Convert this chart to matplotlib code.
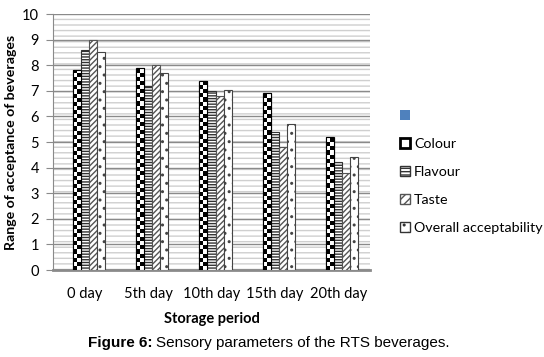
import numpy as np
import matplotlib.pyplot as plt
from matplotlib.patches import Patch, Rectangle

days = ['0 day', '5th day', '10th day', '15th day', '20th day']
colour = [7.8, 7.9, 7.4, 6.9, 5.2]
flavour = [8.6, 7.2, 7.0, 5.4, 4.2]
taste = [9.0, 8.0, 6.8, 4.8, 3.8]
overall = [8.5, 7.7, 7.05, 5.7, 4.4]

plt.rcParams['font.family'] = ['Lato', 'DejaVu Sans']
plt.rcParams['hatch.linewidth'] = 1.0

fig = plt.figure(figsize=(5.44, 3.57), dpi=100)
ax = fig.add_axes([53 / 544, 1 - 270 / 357, 317 / 544, 256 / 357])

# striped plot-area background
bg = Rectangle((0, 0), 1, 1, transform=ax.transAxes, facecolor='white',
               edgecolor='#cfcfcf', hatch='---', linewidth=0, zorder=0)
ax.add_patch(bg)
ax.patch.set_visible(False)

x = np.arange(len(days))
w = 0.127
# first slot of each group belongs to the empty (blue) series
off = [-1 * w, 0, 1 * w, 2 * w]

bars_c = ax.bar(x + off[0], colour, w, facecolor='white', edgecolor='black',
                linewidth=0.8, zorder=3)
ax.bar(x + off[1], flavour, w, facecolor='white', edgecolor='#333333',
       hatch='------', linewidth=0.8, zorder=3)
ax.bar(x + off[2], taste, w, facecolor='white', edgecolor='#555555',
       hatch='//////', linewidth=0.8, zorder=3)
ax.bar(x + off[3], overall, w, facecolor='white', edgecolor='#444444',
       hatch='..', linewidth=0.8, zorder=3)

# checkerboard fill for Colour bars
cy = 0.16
for b in bars_c:
    x0 = b.get_x()
    h = b.get_height()
    ny = int(np.ceil(h / cy))
    img = np.indices((ny, 2)).sum(axis=0) % 2
    im = ax.imshow(img, cmap='gray', extent=(x0, x0 + w, 0, ny * cy),
                   origin='lower', interpolation='nearest', aspect='auto',
                   zorder=3.5)
    im.set_clip_path(b)
    ax.add_patch(Rectangle((x0, 0), w, h, facecolor='none',
                           edgecolor='black', linewidth=0.8, zorder=4))

ax.set_xlim(-0.5, 4.5)
ax.set_ylim(0, 10)
ax.set_yticks(range(11))
ax.yaxis.grid(True, color='#8a8a8a', linewidth=1.0, zorder=1)
ax.set_axisbelow(True)
ax.set_xticks(x)
ax.set_xticklabels(days, fontsize=10.5)
ax.tick_params(axis='x', length=0, pad=12)
ax.tick_params(axis='y', labelsize=10.5, color='#8a8a8a', length=5, pad=5)
for s in ['top', 'right']:
    ax.spines[s].set_visible(False)
ax.spines['left'].set_color('#8a8a8a')
ax.spines['bottom'].set_color('#8a8a8a')
ax.spines['bottom'].set_linewidth(2)

ax.set_xlabel('Storage period', fontsize=10.5, fontweight='bold', labelpad=8)
ax.set_ylabel('Range of acceptance of beverages', fontsize=10.2,
              fontweight='bold')
ax.yaxis.set_label_coords(-36 / 317, 0.5)

handles = [
    Patch(facecolor='#4f81bd', edgecolor='none'),
    Patch(facecolor='white', edgecolor='black', linewidth=2),
    Patch(facecolor='white', edgecolor='#333333', hatch='-----'),
    Patch(facecolor='white', edgecolor='#555555', hatch='////'),
    Patch(facecolor='white', edgecolor='#333333', hatch='..'),
]
labels = ['', 'Colour', 'Flavour', 'Taste', 'Overall acceptability']
fig.legend(handles, labels, loc='upper left',
           bbox_to_anchor=(394 / 544, 1 - 104 / 357), frameon=False,
           fontsize=10.3, handlelength=0.7, handleheight=0.7,
           handletextpad=0.3, labelspacing=1.13, borderaxespad=0)

# caption: bold "Figure 6:" followed by plain text
cap_y = 1 - 343 / 357
t1 = fig.text(88 / 544, cap_y, 'Figure 6:', ha='left', va='center',
              fontsize=11, fontweight='bold', family='Liberation Sans')
fig.canvas.draw()
bb = t1.get_window_extent()
fig.text((bb.x1 + 3) / 544, cap_y, 'Sensory parameters of the RTS beverages.',
         ha='left', va='center', fontsize=11, family='Liberation Sans')

fig.savefig('out.png', dpi=100)
